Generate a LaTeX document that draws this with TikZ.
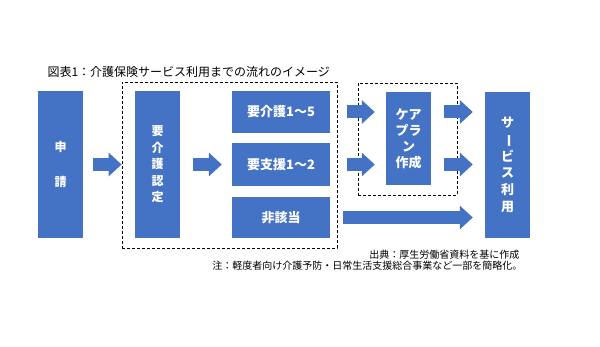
\documentclass[tikz,border=0pt]{standalone}
\usepackage{fontspec}
\usepackage{graphicx}
\setmainfont{Noto Sans CJK JP}
\usetikzlibrary{arrows.meta}
\definecolor{boxblue}{HTML}{4472C4}

\begin{document}
\begin{tikzpicture}[x=1pt, y=-1pt, line join=round,
  box/.style={fill=boxblue, text=white, inner sep=0pt, align=center, font=\bfseries\fontsize{12}{16.5}\selectfont},
  fat/.style={boxblue, line width=13pt, -{Triangle[width=23pt,length=13pt]}},
  grp/.style={draw, line width=0.8pt, dash pattern=on 3pt off 2pt, inner sep=0pt}]
	\useasboundingbox[fill=white] (0,0) rectangle (600,347);
	
	% Tiêu đề
	\node[anchor=west, font=\fontsize{12}{14}\selectfont] (title) at (44,72) {図表1：介護保険サービス利用までの流れのイメージ};
	
	% Khung nét đứt
	\node[grp, minimum width=215pt, minimum height=166pt] (grp1) at (229.5,165) {};
	\node[grp, minimum width=99pt, minimum height=112pt] (grp2) at (407.5,139) {};
	
	% Các hộp
	\node[box, minimum width=45pt, minimum height=147pt] (shinsei) at (60.5,164.5) {申\\[19pt]請};
	\node[box, minimum width=45pt, minimum height=147pt] (nintei) at (157.5,164.5) {要\\介\\護\\認\\定};
	\node[box, minimum width=98pt, minimum height=42pt, font=\bfseries\fontsize{13}{16}\selectfont] (yokaigo) at (281,112) {要介護1～5};
	\node[box, minimum width=98pt, minimum height=43pt, font=\bfseries\fontsize{13}{16}\selectfont] (yoshien) at (281,164.5) {要支援1～2};
	\node[box, minimum width=98pt, minimum height=41pt, font=\bfseries\fontsize{13}{16}\selectfont] (higaitou) at (281,217.5) {非該当};
	\node[box, minimum width=45pt, minimum height=93pt, font=\bfseries\fontsize{13}{16}\selectfont] (care) at (408.5,138.5) {ケア\\プラ\\ン\\作成};
	\node[box, minimum width=45pt, minimum height=146pt, font=\bfseries\fontsize{13}{16.7}\selectfont] (riyou) at (507.5,165) {サ\\\rotatebox[origin=c]{-90}{ー}\\ビ\\ス\\利\\用};
	
	% Mũi tên
	\draw[fat, shorten <=10pt] (shinsei.east) -- (shinsei.east -| grp1.west);
	\draw[fat, shorten <=13pt, shorten >=10pt] (nintei.east) -- (nintei.east -| yokaigo.west);
	\draw[fat, shorten <=17pt, shorten >=11pt] (yokaigo.east) -- (yokaigo.east -| care.west);
	\draw[fat, shorten <=17pt, shorten >=11pt] (yoshien.east) -- (yoshien.east -| care.west);
	\draw[fat, shorten <=13pt, shorten >=12pt] (care.east |- yokaigo.east) -- (yokaigo.east -| riyou.west);
	\draw[fat, shorten <=13pt, shorten >=12pt] (care.east |- yoshien.east) -- (yoshien.east -| riyou.west);
	\draw[fat, shorten <=13pt, shorten >=12pt] (higaitou.east) -- (higaitou.east -| riyou.west);
	
	% Ghi chú
	\node[anchor=east, font=\fontsize{10}{12}\selectfont] (source) at (523,255) {出典：厚生労働省資料を基に作成};
	\node[anchor=east, font=\fontsize{10}{12}\selectfont] (note) at (526,266) {注：軽度者向け介護予防・日常生活支援総合事業など一部を簡略化。};
\end{tikzpicture}
\end{document}
